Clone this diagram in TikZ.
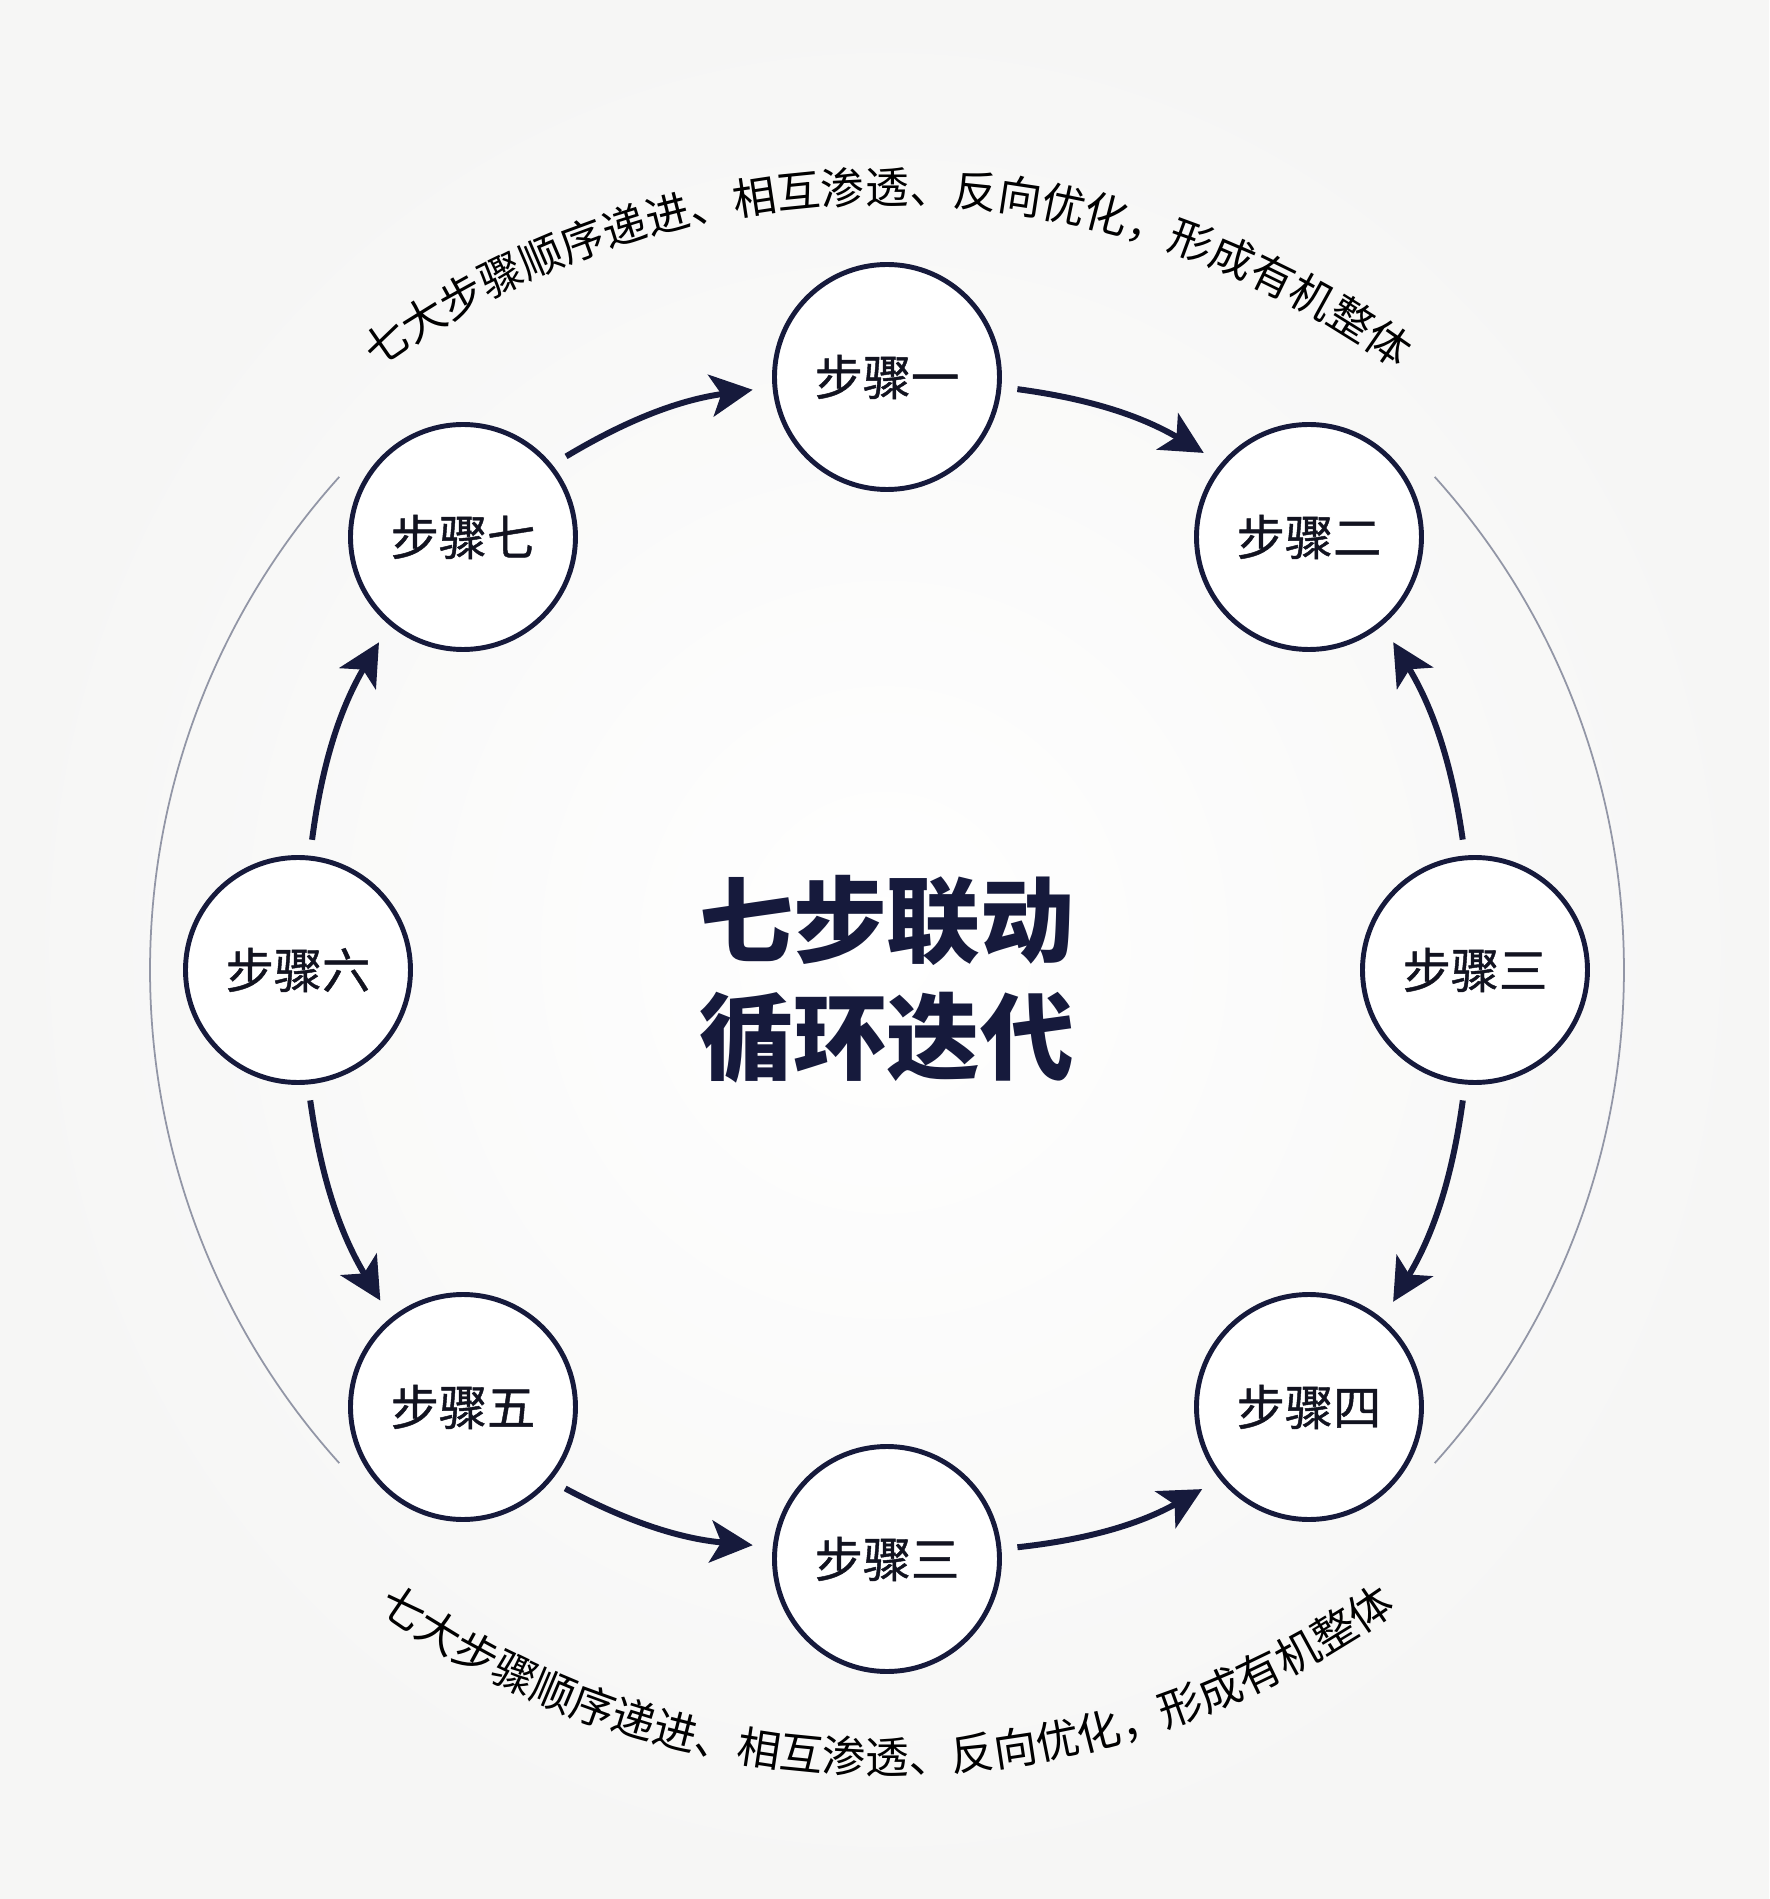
\documentclass[tikz,border=0pt]{standalone}
\usepackage{fontspec}
\setmainfont{Noto Sans CJK SC}
\newfontfamily\stepfont[FakeBold=0.9]{Noto Sans CJK SC}
\usetikzlibrary{arrows.meta}
\usetikzlibrary{decorations.text}
\definecolor{stepnavy}{HTML}{161A3C}
\definecolor{steptext}{HTML}{121320}
\definecolor{ringgray}{HTML}{9296A6}
\definecolor{paper}{HTML}{F6F6F5}

\begin{document}
\begin{tikzpicture}[
  stepnode/.style={circle, draw=stepnavy, line width=1.4pt, fill=white, minimum size=2.25cm, inner sep=0pt,
    text=steptext, font=\stepfont\fontsize{13.7}{16}\selectfont},
  arr/.style={stepnavy, line width=1.7pt, -{Stealth[length=12pt,width=12pt,inset=3pt]},
    shorten <=0.16cm, shorten >=0.2cm},
  outerarc/.style={ringgray, line width=0.5pt}
]
\useasboundingbox (-8.87,-9.29) rectangle (8.82,9.70);
\shade[inner color=white, outer color=paper] (-8.87,-9.29) rectangle (8.82,9.70);

\draw[outerarc] (138:7.37) arc[start angle=138, end angle=222, radius=7.37];
\draw[outerarc] (-42:7.37) arc[start angle=-42, end angle=42, radius=7.37];

\foreach \name/\pos/\lab in {n1/{0,5.93}/步骤一, n2/{4.22,4.33}/步骤二, n3/{5.88,0}/步骤三, n4/{4.22,-4.37}/步骤四,
  n3b/{0,-5.89}/步骤三, n5/{-4.24,-4.37}/步骤五, n6/{-5.89,0}/步骤六, n7/{-4.24,4.33}/步骤七} {
 \node[stepnode] (\name) at (\pos) {\lab};
}

\foreach \a/\b/\bend in {n7.39.5/n1.185.5/11.5, n1.-5.5/n2.140.5/11.5, n3.-95.5/n4.50.5/11.5, n6.84.5/n7.230.5/11.5,
  n3.95.5/n2.-50.5/-11.5, n6.275.5/n5.129.5/-11.5, n5.320.5/n3b.174.5/-11.5, n3b.5.5/n4.219.5/-11.5} {
 \draw[arr] (\a) to[bend left=\bend] (\b);
}

\node[text=stepnavy, align=center, font=\bfseries\fontsize{26.7}{33.3}\selectfont] (title) at (0,-0.09) {七步联动\\循环迭代};

\path[color=steptext, decorate, decoration={text along path, text align=center,
  text={|\fontsize{12.4}{14}\selectfont|七大步骤顺序递进、相互渗透、反向优化，形成有机整体}}]
  (0,-0.97) ++(130:8.64) arc[start angle=130, end angle=50, radius=8.64];
\path[color=steptext, decorate, decoration={text along path, text align=center,
  text={|\fontsize{12.4}{14}\selectfont|七大步骤顺序递进、相互渗透、反向优化，形成有机整体}}]
  (0,0.70) ++(230:8.74) arc[start angle=230, end angle=310, radius=8.74];
\end{tikzpicture}
\end{document}
